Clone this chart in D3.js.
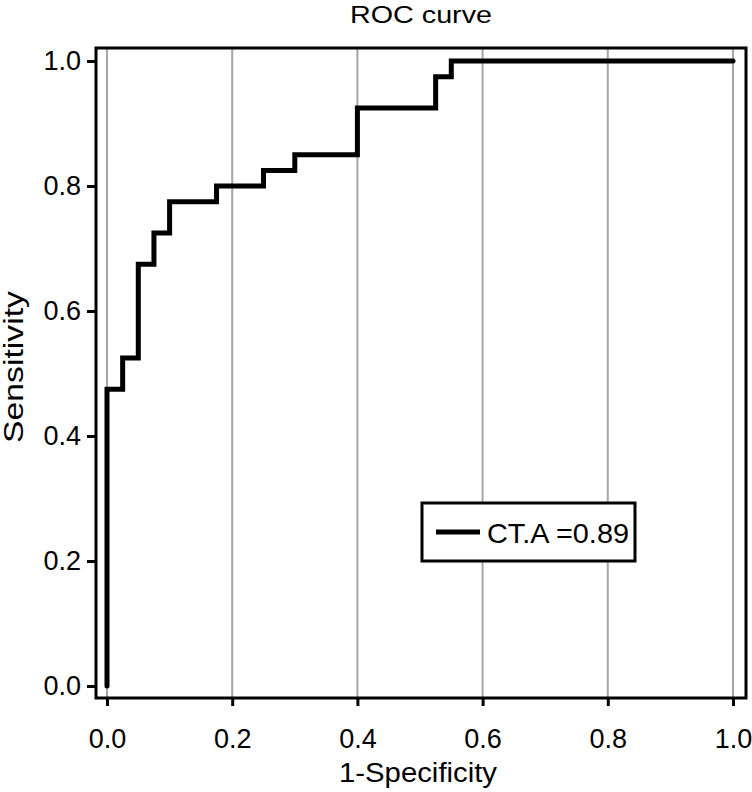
<!DOCTYPE html>
<html>
<head>
<meta charset="utf-8">
<script src="https://cdn.jsdelivr.net/npm/d3@7"></script>
<style>
  body { margin: 0; background: #fff; }
  text { font-family: "Liberation Sans", Arial, Helvetica, sans-serif; fill: #000; }
</style>
</head>
<body>
<div id="chart"></div>
<script>
// ROC points (1-specificity, sensitivity), stepped
const fpr = [0, 0, 0.025, 0.05, 0.075, 0.1, 0.175, 0.25, 0.3, 0.4, 0.525, 0.55, 1];
const tpr = [0, 0.475, 0.525, 0.675, 0.725, 0.775, 0.8, 0.825, 0.85, 0.925, 0.975, 1, 1];
const xTicks = [0, 0.2, 0.4, 0.6, 0.8, 1.0];
const yTicks = [0, 0.2, 0.4, 0.6, 0.8, 1.0];
const legendLabel = "CT.A =0.89";

const WIDTH = 752, HEIGHT = 792;
const BOX = { LEFT: 96, RIGHT: 746, TOP: 48, BOTTOM: 698 };

const svg = d3.select("#chart").append("svg")
    .attr("width", WIDTH)
    .attr("height", HEIGHT);

const xScale = d3.scaleLinear().domain([0, 1]).range([107, 733]);
const yScale = d3.scaleLinear().domain([0, 1]).range([686, 61]);

// vertical grid lines
svg.append("g")
    .selectAll("line")
    .data(xTicks)
    .join("line")
    .attr("x1", d => xScale(d))
    .attr("x2", d => xScale(d))
    .attr("y1", BOX.TOP)
    .attr("y2", BOX.BOTTOM)
    .attr("stroke", "#a6a6a6")
    .attr("stroke-width", 2);

// ROC line
const points = fpr.map((f, i) => [f, tpr[i]]);
const line = d3.line()
    .x(d => xScale(d[0]))
    .y(d => yScale(d[1]))
    .curve(d3.curveStepAfter);

svg.append("path")
    .datum(points)
    .attr("fill", "none")
    .attr("stroke", "#000")
    .attr("stroke-width", 5)
    .attr("stroke-linecap", "round")
    .attr("d", line);

// frame
svg.append("rect")
    .attr("x", BOX.LEFT)
    .attr("y", BOX.TOP)
    .attr("width", BOX.RIGHT - BOX.LEFT)
    .attr("height", BOX.BOTTOM - BOX.TOP)
    .attr("fill", "none")
    .attr("stroke", "#000")
    .attr("stroke-width", 3);

// axes
const xAxis = d3.axisBottom(xScale)
    .tickValues(xTicks)
    .tickFormat(d3.format(".1f"))
    .tickSize(8)
    .tickPadding(12);

const xg = svg.append("g")
    .attr("transform", `translate(0, ${BOX.BOTTOM})`)
    .call(xAxis);
xg.select(".domain").remove();
xg.selectAll("line").attr("stroke-width", 3);
xg.selectAll("text")
    .attr("y", 50)
    .attr("dy", null)
    .attr("font-family", null)
    .style("font-size", "27px");

const yAxis = d3.axisLeft(yScale)
    .tickValues(yTicks)
    .tickFormat(d3.format(".1f"))
    .tickSize(9)
    .tickPadding(6);

const yg = svg.append("g")
    .attr("transform", `translate(${BOX.LEFT}, 0)`)
    .call(yAxis);
yg.select(".domain").remove();
yg.selectAll("line").attr("stroke-width", 3);
yg.selectAll("text")
    .attr("font-family", null)
    .style("font-size", "27px");

// titles
svg.append("text")
    .attr("x", (BOX.LEFT + BOX.RIGHT) / 2)
    .attr("y", 23)
    .attr("text-anchor", "middle")
    .attr("textLength", 142)
    .attr("lengthAdjust", "spacingAndGlyphs")
    .style("font-size", "24px")
    .text("ROC curve");

svg.append("text")
    .attr("x", (BOX.LEFT + BOX.RIGHT) / 2 - 3)
    .attr("y", 782)
    .attr("text-anchor", "middle")
    .attr("textLength", 158)
    .attr("lengthAdjust", "spacingAndGlyphs")
    .style("font-size", "27px")
    .text("1-Specificity");

svg.append("text")
    .attr("transform", `translate(23, 367) rotate(-90)`)
    .attr("text-anchor", "middle")
    .attr("textLength", 152)
    .attr("lengthAdjust", "spacingAndGlyphs")
    .style("font-size", "27px")
    .text("Sensitivity");

// legend
const legend = svg.append("g").attr("transform", "translate(422, 503)");
legend.append("rect")
    .attr("width", 213)
    .attr("height", 58)
    .attr("fill", "#fff")
    .attr("stroke", "#000")
    .attr("stroke-width", 3);
legend.append("line")
    .attr("x1", 14).attr("x2", 58)
    .attr("y1", 29).attr("y2", 29)
    .attr("stroke", "#000")
    .attr("stroke-width", 5);
legend.append("text")
    .attr("x", 65)
    .attr("y", 40)
    .attr("textLength", 142)
    .attr("lengthAdjust", "spacingAndGlyphs")
    .style("font-size", "28px")
    .text(legendLabel);
</script>
</body>
</html>
